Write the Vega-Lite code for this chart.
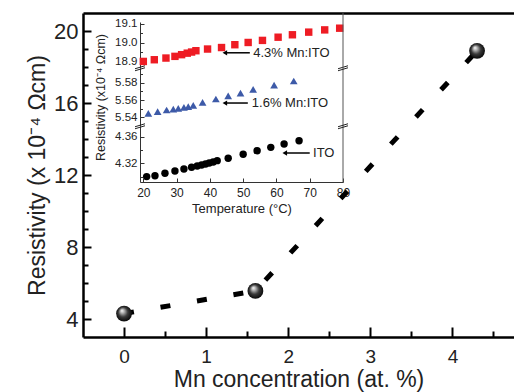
{
  "$schema": "https://vega.github.io/schema/vega-lite/v6.json",
  "width": 431,
  "height": 324,
  "autosize": {"type": "none"},
  "padding": {"left": 83, "top": 13, "right": 0, "bottom": 55},
  "background": "white",
  "config": {
    "view": {"stroke": null},
    "font": "Liberation Sans",
    "axis": {"grid": false, "titleFontWeight": "normal", "labelFlush": false, "labelOverlap": false}
  },
  "datasets": {
    "main": [
      {"mn": 0, "rho": 4.3},
      {"mn": 1.6, "rho": 5.56},
      {"mn": 4.3, "rho": 18.9}
    ],
    "ito": [
      {"T": 21.0, "r": 4.3000}, {"T": 23.5, "r": 4.3014}, {"T": 26.5, "r": 4.3050},
      {"T": 29.5, "r": 4.3084}, {"T": 32.2, "r": 4.3114}, {"T": 34.5, "r": 4.3140},
      {"T": 36.2, "r": 4.3160}, {"T": 37.5, "r": 4.3175}, {"T": 38.7, "r": 4.3190},
      {"T": 39.8, "r": 4.3205}, {"T": 41.0, "r": 4.3220}, {"T": 42.2, "r": 4.3240},
      {"T": 45.5, "r": 4.3275}, {"T": 50.0, "r": 4.3335}, {"T": 54.2, "r": 4.3390},
      {"T": 58.3, "r": 4.3440}, {"T": 62.3, "r": 4.3490}, {"T": 66.8, "r": 4.3540}
    ],
    "mn16": [
      {"T": 21.5, "r": 5.5445}, {"T": 24.3, "r": 5.5464}, {"T": 27.0, "r": 5.5484},
      {"T": 29.0, "r": 5.5495}, {"T": 30.5, "r": 5.5503}, {"T": 32.2, "r": 5.5515},
      {"T": 33.5, "r": 5.5522}, {"T": 35.0, "r": 5.5538}, {"T": 37.8, "r": 5.5573},
      {"T": 41.8, "r": 5.5612}, {"T": 45.5, "r": 5.5647}, {"T": 49.2, "r": 5.5681},
      {"T": 53.0, "r": 5.5724}, {"T": 59.3, "r": 5.5774}, {"T": 65.2, "r": 5.5821}
    ],
    "mn43": [
      {"T": 20.0, "r": 18.900}, {"T": 23.3, "r": 18.909}, {"T": 26.8, "r": 18.918},
      {"T": 29.5, "r": 18.927}, {"T": 31.5, "r": 18.936}, {"T": 33.2, "r": 18.944},
      {"T": 34.5, "r": 18.950}, {"T": 35.8, "r": 18.957}, {"T": 39.3, "r": 18.966},
      {"T": 43.5, "r": 18.974}, {"T": 47.5, "r": 18.989}, {"T": 51.5, "r": 19.001},
      {"T": 55.8, "r": 19.012}, {"T": 60.5, "r": 19.029}, {"T": 64.8, "r": 19.042},
      {"T": 69.7, "r": 19.056}, {"T": 74.5, "r": 19.068}, {"T": 79.0, "r": 19.077}
    ]
  },
  "layer": [
    {
      "data": {"name": "main"},
      "mark": {"type": "line", "stroke": "black", "strokeWidth": 5, "strokeDash": [10, 27], "strokeCap": "butt"},
      "encoding": {
        "x": {"field": "mn", "type": "quantitative", "scale": {"domain": [-0.5, 4.75], "nice": false, "zero": false},
              "axis": {"orient": "top", "ticks": false, "labels": false, "title": null, "domainColor": "black", "domainWidth": 2.5}},
        "y": {"field": "rho", "type": "quantitative", "scale": {"domain": [3, 21], "nice": false, "zero": false}, "axis": null}
      }
    },
    {
      "data": {"name": "main"},
      "mark": {"type": "circle", "size": 250, "opacity": 1,
               "fill": {"gradient": "radial", "x1": 0.36, "y1": 0.3, "r1": 0.0, "x2": 0.5, "y2": 0.5, "r2": 0.55,
                        "stops": [{"offset": 0, "color": "#ffffff"}, {"offset": 0.22, "color": "#b5b5b5"}, {"offset": 0.55, "color": "#3a3a3a"}, {"offset": 1, "color": "#000000"}]}},
      "encoding": {
        "x": {"field": "mn", "type": "quantitative", "scale": {"domain": [-0.5, 4.75], "nice": false, "zero": false},
              "axis": {"orient": "bottom", "values": [0, 0.5, 1, 1.5, 2, 2.5, 3, 3.5, 4, 4.5],
                       "labelExpr": "datum.value % 1 === 0 ? datum.value : ''",
                       "tickSize": {"condition": {"test": "datum.value % 1 === 0", "value": -10}, "value": -6},
                       "tickWidth": 2, "tickColor": "black", "domainColor": "black", "domainWidth": 2.5,
                       "labelFontSize": 19, "labelColor": "#222", "labelPadding": 20,
                       "title": "Mn concentration (at. %)", "titleFontSize": 23, "titleColor": "#222", "titlePadding": -2}},
        "y": {"field": "rho", "type": "quantitative", "scale": {"domain": [3, 21], "nice": false, "zero": false},
              "axis": {"orient": "left", "values": [4, 5, 6, 7, 8, 9, 10, 11, 12, 13, 14, 15, 16, 17, 18, 19, 20],
                       "labelExpr": "datum.value % 4 === 0 ? datum.value : ''",
                       "tickSize": {"condition": {"test": "datum.value % 4 === 0", "value": -8}, "value": -5},
                       "tickWidth": 2, "tickColor": "black", "domainColor": "black", "domainWidth": 2.5,
                       "labelFontSize": 22, "labelColor": "#222", "labelPadding": 13,
                       "title": "Resistivity (x 10⁻⁴ Ωcm)", "titleFontSize": 23, "titleColor": "#222", "titlePadding": 4}}
      }
    },
    {
      "layer": [
        {
          "layer": [
            {
              "data": {"name": "ito"},
              "mark": {"type": "point", "shape": "circle", "filled": true, "size": 55, "color": "black", "opacity": 1},
              "encoding": {
                "x": {"field": "T", "type": "quantitative", "scale": {"domain": [19, 80], "range": [57, 260], "nice": false, "zero": false},
                      "axis": {"orient": "bottom", "offset": -155, "values": [20, 25, 30, 35, 40, 45, 50, 55, 60, 65, 70, 75, 80],
                               "labelExpr": "datum.value % 10 === 0 ? datum.value : ''",
                               "tickSize": {"condition": {"test": "datum.value % 10 === 0", "value": -4}, "value": -2.5},
                               "tickColor": "#333", "tickWidth": 1, "domainColor": "#333", "domainWidth": 1,
                               "labelFontSize": 12, "labelColor": "#222", "labelPadding": 9,
                               "title": "Temperature (°C)", "titleFontSize": 13, "titleColor": "#222", "titlePadding": 4}},
                "y": {"field": "r", "type": "quantitative", "scale": {"domain": [4.2919, 4.3761], "range": [169, 113], "nice": false, "zero": false},
                      "axis": {"orient": "left", "offset": -57, "values": [4.30, 4.32, 4.34, 4.36],
                               "labelExpr": "abs(datum.value*25 - round(datum.value*25)) < 0.001 ? format(datum.value, '.2f') : ''",
                               "tickSize": {"condition": {"test": "abs(datum.value*25 - round(datum.value*25)) < 0.001", "value": -4}, "value": -2.5},
                               "tickColor": "#333", "tickWidth": 1, "domainColor": "#333", "domainWidth": 1,
                               "labelFontSize": 11.5, "labelColor": "#222", "labelPadding": 7, "title": null}}
              }
            },
            {
              "data": {"values": [{"T": 80, "r": 4.2919, "r2": 4.3761}]},
              "mark": {"type": "rule", "color": "#555", "strokeWidth": 1},
              "encoding": {
                "x": {"field": "T", "type": "quantitative", "scale": {"domain": [19, 80], "range": [57, 260], "nice": false, "zero": false}},
                "y": {"field": "r", "type": "quantitative", "scale": {"domain": [4.2919, 4.3761], "range": [169, 113], "nice": false, "zero": false}},
                "y2": {"field": "r2"}
              }
            },
            {
              "data": {"values": [{"T": 71, "T1": 62.5, "T2": 70, "r": 4.3355, "label": "ITO"}]},
              "layer": [
                {"mark": {"type": "rule", "color": "black", "strokeWidth": 1.5},
                 "encoding": {
                   "x": {"field": "T1", "type": "quantitative", "scale": {"domain": [19, 80], "range": [57, 260], "nice": false, "zero": false}},
                   "x2": {"field": "T2"},
                   "y": {"field": "r", "type": "quantitative", "scale": {"domain": [4.2919, 4.3761], "range": [169, 113], "nice": false, "zero": false}}
                 }},
                {"mark": {"type": "point", "shape": "triangle-left", "filled": true, "size": 28, "color": "black", "opacity": 1},
                 "encoding": {
                   "x": {"field": "T1", "type": "quantitative", "scale": {"domain": [19, 80], "range": [57, 260], "nice": false, "zero": false}},
                   "y": {"field": "r", "type": "quantitative", "scale": {"domain": [4.2919, 4.3761], "range": [169, 113], "nice": false, "zero": false}}
                 }},
                {"mark": {"type": "text", "align": "left", "baseline": "middle", "fontSize": 13, "color": "#222"},
                 "encoding": {
                   "x": {"field": "T", "type": "quantitative", "scale": {"domain": [19, 80], "range": [57, 260], "nice": false, "zero": false}},
                   "y": {"field": "r", "type": "quantitative", "scale": {"domain": [4.2919, 4.3761], "range": [169, 113], "nice": false, "zero": false}},
                   "text": {"field": "label"}
                 }}
              ]
            }
          ]
        },
        {
          "layer": [
            {
              "data": {"name": "mn16"},
              "mark": {"type": "point", "shape": "triangle-up", "filled": true, "size": 60, "color": "#3d5aa8", "opacity": 1},
              "encoding": {
                "x": {"field": "T", "type": "quantitative", "scale": {"domain": [19, 80], "range": [57, 260], "nice": false, "zero": false}},
                "y": {"field": "r", "type": "quantitative", "scale": {"domain": [5.5298, 5.5972], "range": [113, 55], "nice": false, "zero": false},
                      "axis": {"orient": "left", "offset": -57, "values": [5.54, 5.55, 5.56, 5.57, 5.58, 5.59],
                               "labelExpr": "abs(datum.value*50 - round(datum.value*50)) < 0.001 ? format(datum.value, '.2f') : ''",
                               "tickSize": {"condition": {"test": "abs(datum.value*50 - round(datum.value*50)) < 0.001", "value": -4}, "value": -2.5},
                               "tickColor": "#333", "tickWidth": 1, "domainColor": "#333", "domainWidth": 1,
                               "labelFontSize": 11.5, "labelColor": "#222", "labelPadding": 7,
                               "title": "Resistivity (x10⁻⁴ Ωcm)", "titleFontSize": 12.5, "titleColor": "#222", "titlePadding": 7}}
              }
            },
            {
              "data": {"values": [{"T": 80, "r": 5.5298, "r2": 5.5972}]},
              "mark": {"type": "rule", "color": "#555", "strokeWidth": 1},
              "encoding": {
                "x": {"field": "T", "type": "quantitative", "scale": {"domain": [19, 80], "range": [57, 260], "nice": false, "zero": false}},
                "y": {"field": "r", "type": "quantitative", "scale": {"domain": [5.5298, 5.5972], "range": [113, 55], "nice": false, "zero": false}},
                "y2": {"field": "r2"}
              }
            },
            {
              "data": {"values": [{"T": 19, "r": 5.5972}, {"T": 80, "r": 5.5972}, {"T": 19, "r": 5.5298}, {"T": 80, "r": 5.5298}]},
              "mark": {"type": "point", "shape": "M-1,0.15L1,-0.45M-1,0.55L1,-0.05", "filled": false, "size": 100, "stroke": "#222", "strokeWidth": 1, "opacity": 1},
              "encoding": {
                "x": {"field": "T", "type": "quantitative", "scale": {"domain": [19, 80], "range": [57, 260], "nice": false, "zero": false}},
                "y": {"field": "r", "type": "quantitative", "scale": {"domain": [5.5298, 5.5972], "range": [113, 55], "nice": false, "zero": false}}
              }
            },
            {
              "data": {"values": [{"T": 52.6, "T1": 44.5, "T2": 51.4, "r": 5.5565, "label": "1.6% Mn:ITO"}]},
              "layer": [
                {"mark": {"type": "rule", "color": "black", "strokeWidth": 1.5},
                 "encoding": {
                   "x": {"field": "T1", "type": "quantitative", "scale": {"domain": [19, 80], "range": [57, 260], "nice": false, "zero": false}},
                   "x2": {"field": "T2"},
                   "y": {"field": "r", "type": "quantitative", "scale": {"domain": [5.5298, 5.5972], "range": [113, 55], "nice": false, "zero": false}}
                 }},
                {"mark": {"type": "point", "shape": "triangle-left", "filled": true, "size": 28, "color": "black", "opacity": 1},
                 "encoding": {
                   "x": {"field": "T1", "type": "quantitative", "scale": {"domain": [19, 80], "range": [57, 260], "nice": false, "zero": false}},
                   "y": {"field": "r", "type": "quantitative", "scale": {"domain": [5.5298, 5.5972], "range": [113, 55], "nice": false, "zero": false}}
                 }},
                {"mark": {"type": "text", "align": "left", "baseline": "middle", "fontSize": 13, "color": "#222"},
                 "encoding": {
                   "x": {"field": "T", "type": "quantitative", "scale": {"domain": [19, 80], "range": [57, 260], "nice": false, "zero": false}},
                   "y": {"field": "r", "type": "quantitative", "scale": {"domain": [5.5298, 5.5972], "range": [113, 55], "nice": false, "zero": false}},
                   "text": {"field": "label"}
                 }}
              ]
            }
          ]
        },
        {
          "layer": [
            {
              "data": {"name": "mn43"},
              "mark": {"type": "point", "shape": "square", "filled": true, "size": 55, "color": "#ee1c24", "opacity": 1},
              "encoding": {
                "x": {"field": "T", "type": "quantitative", "scale": {"domain": [19, 80], "range": [57, 260], "nice": false, "zero": false}},
                "y": {"field": "r", "type": "quantitative", "scale": {"domain": [18.865, 19.11], "range": [55, 9], "nice": false, "zero": false},
                      "axis": {"orient": "left", "offset": -57, "values": [18.9, 18.95, 19.0, 19.05, 19.1],
                               "labelExpr": "abs(datum.value*10 - round(datum.value*10)) < 0.001 ? format(datum.value, '.1f') : ''",
                               "tickSize": {"condition": {"test": "abs(datum.value*10 - round(datum.value*10)) < 0.001", "value": -4}, "value": -2.5},
                               "tickColor": "#333", "tickWidth": 1, "domainColor": "#333", "domainWidth": 1,
                               "labelFontSize": 11.5, "labelColor": "#222", "labelPadding": 7, "title": null}}
              }
            },
            {
              "data": {"values": [{"T": 80, "r": 18.865, "r2": 19.158}]},
              "mark": {"type": "rule", "color": "#555", "strokeWidth": 1},
              "encoding": {
                "x": {"field": "T", "type": "quantitative", "scale": {"domain": [19, 80], "range": [57, 260], "nice": false, "zero": false}},
                "y": {"field": "r", "type": "quantitative", "scale": {"domain": [18.865, 19.11], "range": [55, 9], "nice": false, "zero": false}},
                "y2": {"field": "r2"}
              }
            },
            {
              "data": {"values": [{"T": 53, "T1": 44.5, "T2": 52, "r": 18.946, "label": "4.3% Mn:ITO"}]},
              "layer": [
                {"mark": {"type": "rule", "color": "black", "strokeWidth": 1.5},
                 "encoding": {
                   "x": {"field": "T1", "type": "quantitative", "scale": {"domain": [19, 80], "range": [57, 260], "nice": false, "zero": false}},
                   "x2": {"field": "T2"},
                   "y": {"field": "r", "type": "quantitative", "scale": {"domain": [18.865, 19.11], "range": [55, 9], "nice": false, "zero": false}}
                 }},
                {"mark": {"type": "point", "shape": "triangle-left", "filled": true, "size": 28, "color": "black", "opacity": 1},
                 "encoding": {
                   "x": {"field": "T1", "type": "quantitative", "scale": {"domain": [19, 80], "range": [57, 260], "nice": false, "zero": false}},
                   "y": {"field": "r", "type": "quantitative", "scale": {"domain": [18.865, 19.11], "range": [55, 9], "nice": false, "zero": false}}
                 }},
                {"mark": {"type": "text", "align": "left", "baseline": "middle", "fontSize": 13, "color": "#222"},
                 "encoding": {
                   "x": {"field": "T", "type": "quantitative", "scale": {"domain": [19, 80], "range": [57, 260], "nice": false, "zero": false}},
                   "y": {"field": "r", "type": "quantitative", "scale": {"domain": [18.865, 19.11], "range": [55, 9], "nice": false, "zero": false}},
                   "text": {"field": "label"}
                 }}
              ]
            }
          ]
        }
      ],
      "resolve": {"scale": {"x": "shared", "y": "independent"}}
    }
  ],
  "resolve": {"scale": {"x": "independent", "y": "independent"}}
}
